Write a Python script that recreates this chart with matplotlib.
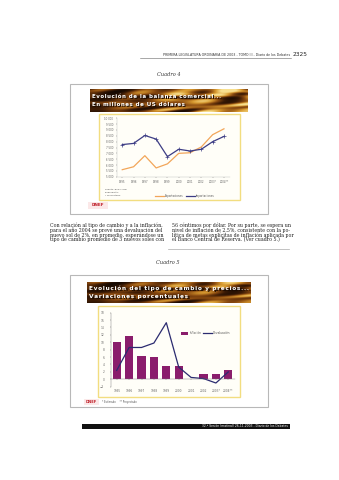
import numpy as np
import matplotlib
matplotlib.use("Agg")
import matplotlib.pyplot as plt
from matplotlib.colors import LinearSegmentedColormap
from matplotlib.patches import Rectangle
from matplotlib.lines import Line2D

W, H = 339, 480

# Cuadro 4 - balanza comercial (millones de US$)
years1 = ["1995", "1996", "1997", "1998", "1999", "2000", "2001", "2002", "2003*", "2004**"]
exportaciones = [5600, 5850, 6800, 5750, 6100, 7000, 7050, 7550, 8600, 9100]
importaciones = [7750, 7850, 8530, 8220, 6720, 7350, 7200, 7350, 8000, 8450]
yticks1 = [5000, 5500, 6000, 6500, 7000, 7500, 8000, 8500, 9000, 9500, 10000]

# Cuadro 5 - tipo de cambio y precios (var. %)
years2 = ["1995", "1996", "1997", "1998", "1999", "2000", "2001", "2002", "2003*", "2004**"]
inflacion = [10.0, 11.6, 6.4, 5.9, 3.6, 3.6, 0.0, 1.4, 1.4, 2.4]
devaluacion = [2.4, 8.6, 8.6, 9.8, 15.3, 3.3, 0.5, 0.2, -1.0, 2.0]
yticks2 = [-2, 0, 2, 4, 6, 8, 10, 12, 14, 16, 18]

left_col = ["Con relación al tipo de cambio y a la inflación,",
            "para el año 2004 se prevé una devaluación del",
            "nuevo sol de 2%, en promedio, esperándose un",
            "tipo de cambio promedio de 3 nuevos soles con"]
right_col = ["56 céntimos por dólar. Por su parte, se espera un",
             "nivel de inflación de 2,5%, consistente con la po-",
             "lítica de metas explícitas de inflación aplicada por",
             "el Banco Central de Reserva. (Ver cuadro 5.)"]

fig = plt.figure(figsize=(W/100, H/100), dpi=100)
fig.patch.set_facecolor("white")


def fx(x):
    return x / W


def fy(y):
    return 1 - y / H


def box(x0, y0, x1, y1):
    return fig.add_axes([fx(x0), fy(y1), (x1 - x0) / W, (y1 - y0) / H])


def rect(x0, y0, x1, y1, z=-1, **kw):
    fig.patches.append(Rectangle((fx(x0), fy(y1)), (x1 - x0) / W, (y1 - y0) / H,
                                 transform=fig.transFigure, zorder=z, **kw))


def hline(x0, x1, y, **kw):
    fig.lines.append(Line2D([fx(x0), fx(x1)], [fy(y), fy(y)], transform=fig.transFigure, zorder=3, **kw))


cmap = LinearSegmentedColormap.from_list("oro", ["#140801", "#3a1a05", "#8a4a10", "#d89a30", "#f8e090"])


def banner(x0, y0, x1, y1, l1, l2, warm, size):
    ax = box(x0, y0, x1, y1)
    yy, xx = np.mgrid[0:1:40j, 0:1:300j]
    v = 0.45 + 0.3 * np.sin(9 * xx + 4 * np.sin(6 * yy + 2 * xx)) * np.cos(5 * yy - 3 * xx)
    v += 0.25 * np.sin(23 * xx + 7 * yy) * np.sin(3 * yy + 1)
    v = v * (0.5 + warm * xx) + 0.05
    ax.imshow(np.clip(v, 0, 1), cmap=cmap, aspect="auto", extent=[0, 1, 0, 1], vmin=0, vmax=1)
    ax.set_axis_off()
    sp = "\u200a"
    for txt, yp in [(l1, 0.68), (l2, 0.32)]:
        s = sp.join(txt)
        ax.text(0.022, yp - 0.04, s, fontsize=size, fontweight="bold", color="#1a0a00", va="center", transform=ax.transAxes)
        ax.text(0.015, yp, s, fontsize=size, fontweight="bold", color="white", va="center", transform=ax.transAxes)


# header
fig.text(fx(290), fy(55), "PRIMERA LEGISLATURA ORDINARIA DE 2003 - TOMO III - Diario de los Debates",
         fontsize=2.3, ha="right", va="center", color="#333333")
fig.text(fx(293), fy(55), "2325", fontsize=4.2, ha="left", va="center", color="#222222")
hline(140, 291, 57.5, color="#666666", lw=0.4)

# Cuadro 4
fig.text(fx(169), fy(75), "Cuadro 4", fontsize=3.6, style="italic", family="DejaVu Serif", ha="center", va="center", color="#333333")
rect(70, 84, 268, 214, fill=False, ec="#b8b8b8", lw=0.8)
banner(90, 89, 248, 112, "Evolución de la balanza comercial...", "En millones de US dólares", 0.9, 4.0)
rect(99, 114, 240, 200, fc="#fffef8", ec="#f2dd80", lw=1.0)

ax1 = box(116.6, 118.3, 229.6, 176.7)
x1 = np.arange(len(years1))
ax1.plot(x1, exportaciones, color="#f2a65a", lw=0.9)
ax1.plot(x1, importaciones, color="#3d3d85", lw=0.9, marker="+", ms=2.5, mew=0.5)
ax1.set_xlim(-0.5, 9.5)
ax1.set_ylim(5000, 10000)
ax1.set_yticks(yticks1)
ax1.set_yticklabels(["{:,}".format(v).replace(",", " ") for v in yticks1])
ax1.set_xticks(x1)
ax1.set_xticklabels(years1)
ax1.tick_params(labelsize=1.9, colors="#666666", length=1.0, width=0.3, pad=1.5)
ax1.patch.set_alpha(0)
for s in ["top", "right"]:
    ax1.spines[s].set_visible(False)
for s in ["left", "bottom"]:
    ax1.spines[s].set_color("#bbbbbb")
    ax1.spines[s].set_linewidth(0.3)

for i, t in enumerate(["Fuente: BCR y INEI", "Elaboración:", "* Proyectado"]):
    fig.text(fx(105), fy(189.3 + 3 * i), t, fontsize=1.7, va="center", color="#555555")
hline(155, 164, 196, color="#f2a65a", lw=0.9)
fig.text(fx(165), fy(196), "Exportaciones", fontsize=1.9, va="center", color="#555555")
hline(186, 195, 196, color="#3d3d85", lw=0.9)
fig.text(fx(196), fy(196), "Importaciones", fontsize=1.9, va="center", color="#555555")

rect(88, 202, 108, 209, fc="#fbe8e8", ec="none")
fig.text(fx(98), fy(205), "DNEF", fontsize=3.0, fontweight="bold", color="#c0202a", ha="center", va="center")

# body text, two columns
for i, line in enumerate(left_col):
    fig.text(fx(50), fy(227.3 + 4.6 * i), line, fontsize=3.4, family="DejaVu Serif", va="baseline", color="#222222")
for i, line in enumerate(right_col):
    fig.text(fx(172), fy(227.3 + 4.6 * i), line, fontsize=3.4, family="DejaVu Serif", va="baseline", color="#222222")
hline(168, 289, 249, color="#aaaaaa", lw=0.5)

# Cuadro 5
fig.text(fx(168), fy(263), "Cuadro 5", fontsize=3.6, style="italic", family="DejaVu Serif", ha="center", va="center", color="#333333")
rect(70, 275, 268, 407, fill=False, ec="#b8b8b8", lw=0.8)
banner(87, 282, 251, 303, "Evolución del tipo de cambio y precios...", "Variaciones porcentuales", 0.6, 4.2)
rect(98, 306, 240, 397, fc="#fffef8", ec="#f2dd80", lw=1.0)

ax2 = box(110.5, 312.7, 234.5, 386.7)
x2 = np.arange(len(years2))
ax2.bar(x2, inflacion, width=0.67, color="#8a1d6c", label="Inflación")
ax2.plot(x2, devaluacion, color="#2b2b70", lw=0.9, label="Devaluación")
ax2.set_xlim(-0.5, 9.5)
ax2.set_ylim(-2, 18)
ax2.set_yticks(yticks2)
ax2.set_xticks(x2)
ax2.set_xticklabels(years2)
ax2.spines["bottom"].set_position(("data", 0))
ax2.tick_params(labelsize=2.1, colors="#666666", length=1.0, width=0.3)
ax2.tick_params(axis="x", pad=6)
ax2.patch.set_alpha(0)
for s in ["top", "right"]:
    ax2.spines[s].set_visible(False)
for s in ["left", "bottom"]:
    ax2.spines[s].set_color("#777777")
    ax2.spines[s].set_linewidth(0.3)

rect(180.7, 331.8, 188.3, 334.8, z=3, fc="#8a1d6c", ec="none")
fig.text(fx(190), fy(333.3), "Inflación", fontsize=2.1, va="center", color="#555555")
hline(203, 212, 333.3, color="#2b2b70", lw=0.9)
fig.text(fx(213), fy(333.3), "Devaluación", fontsize=2.1, va="center", color="#555555")

rect(84, 399, 99, 405, fc="#fbe8e8", ec="none")
fig.text(fx(91.5), fy(402), "DNEF", fontsize=2.6, fontweight="bold", color="#c0202a", ha="center", va="center")
fig.text(fx(102), fy(401.7), "* Estimado     ** Proyectado", fontsize=1.8, va="center", color="#555555")

# footer
rect(82, 424, 290, 428.5, z=3, fc="#111111", ec="none")
fig.text(fx(288), fy(426.2), "32.ª Sesión (matinal) 26-11-2003 - Diario de los Debates", fontsize=2.2,
         color="white", ha="right", va="center")

fig.savefig("out.png", dpi=100)
